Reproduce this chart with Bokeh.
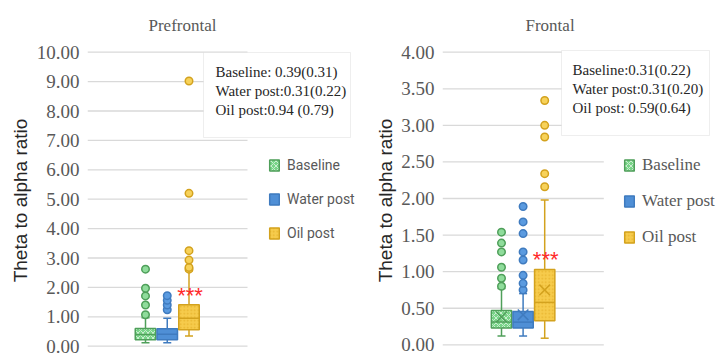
from bokeh.plotting import figure
from bokeh.layouts import row
from bokeh.models import (Range1d, FixedTicker, NumeralTickFormatter, Legend,
                          LegendItem, BoxAnnotation, Label)
from bokeh.embed import file_html
from bokeh.resources import INLINE

# ---------------- data ----------------
groups = ["Baseline", "Water post", "Oil post"]

pf_q1 = [0.22, 0.22, 0.56]
pf_median = [0.40, 0.41, 0.95]
pf_q3 = [0.60, 0.59, 1.41]
pf_low = [0.12, 0.12, 0.35]
pf_high = [0.97, 0.95, 2.57]
pf_outliers = [[1.07, 1.40, 1.71, 1.97, 2.62],
               [1.24, 1.40, 1.56, 1.72],
               [2.62, 2.68, 2.93, 3.25, 5.20, 9.02]]
pf_stats = ["Baseline: 0.39(0.31)", "Water post:0.31(0.22)", "Oil post:0.94 (0.79)"]
pf_ticks = [0, 1, 2, 3, 4, 5, 6, 7, 8, 9, 10]

fr_q1 = [0.23, 0.23, 0.33]
fr_median = [0.31, 0.31, 0.58]
fr_q3 = [0.47, 0.455, 1.03]
fr_low = [0.12, 0.12, 0.09]
fr_high = [0.77, 0.70, 1.98]
fr_mean = [0.38, 0.41, 0.75]
fr_outliers = [[0.80, 0.91, 1.06, 1.27, 1.39, 1.54],
               [0.75, 0.84, 0.95, 1.16, 1.27, 1.52, 1.68, 1.89],
               [2.16, 2.34, 2.84, 3.00, 3.34]]
fr_stats = ["Baseline:0.31(0.22)", "Water post:0.31(0.20)", "Oil post: 0.59(0.64)"]
fr_ticks = [0, 0.5, 1, 1.5, 2, 2.5, 3, 3.5, 4]

# ---------------- styles ----------------
FILL = ["#78d488", "#4f8fd6", "#f6cb4c"]
LINE = ["#4f9f5a", "#3f7bbf", "#d3a21e"]
OUT_FILL = ["#8fdc9b", "#5b9be0", "#f7d25a"]
HATCH = ["diagonal_cross", None, "dot"]
HATCH_COLOR = ["#ffffff", "#ffffff", "#e0a61c"]

W, H = 358, 356
TOP, BOTTOM = 44, 0
SERIF = "Liberation Serif"
SANS = "Liberation Sans"


def make_panel(title, title_offset, left_border, zero_px, ppu, ticks,
               q1, med, q3, low, high, outliers, mean, stats, star_y,
               first_x, step, box_w, grid_end, box_rect, text_x,
               legend_loc, legend_font, legend_size, legend_spacing,
               label_standoff):
    frame_top, frame_bottom = TOP, H - BOTTOM
    y0 = (zero_px - frame_bottom) / ppu
    y1 = (zero_px - frame_top) / ppu
    fw = W - left_border

    def yv(px):
        return (zero_px - px) / ppu

    p = figure(width=W, height=H, output_backend="svg", toolbar_location=None,
               x_range=Range1d(0, fw), y_range=Range1d(y0, y1),
               x_axis_location=None, min_border_left=left_border,
               min_border_right=0, min_border_top=TOP, min_border_bottom=BOTTOM)
    p.outline_line_color = None
    p.grid.visible = False
    p.background_fill_color = "white"
    p.border_fill_color = "white"

    p.title.text = title
    p.title.align = "left"
    p.title.offset = title_offset
    p.title.standoff = 20
    p.title.text_font = SERIF
    p.title.text_font_size = "17px"
    p.title.text_font_style = "normal"
    p.title.text_color = "#595959"

    p.yaxis.ticker = FixedTicker(ticks=ticks)
    p.yaxis.formatter = NumeralTickFormatter(format="0.00")
    p.yaxis.axis_line_color = None
    p.yaxis.major_tick_line_color = None
    p.yaxis.minor_tick_line_color = None
    p.yaxis.major_tick_out = 0
    p.yaxis.major_tick_in = 0
    p.yaxis.minor_tick_out = 0
    p.yaxis.major_label_standoff = 8
    p.yaxis.major_label_text_font = SERIF
    p.yaxis.major_label_text_font_style = "normal"
    p.yaxis.major_label_text_font_size = "19px"
    p.yaxis.major_label_text_color = "#595959"
    p.yaxis.axis_label = "Theta to alpha ratio"
    p.yaxis.axis_label_text_font = SANS
    p.yaxis.axis_label_text_font_size = "19px"
    p.yaxis.axis_label_text_font_style = "normal"
    p.yaxis.axis_label_text_color = "#262626"
    p.yaxis.axis_label_standoff = label_standoff

    # gridlines (stop before the legend area)
    p.segment(x0=[0] * len(ticks), x1=[grid_end] * len(ticks), y0=ticks, y1=ticks,
              line_color="#d9d9d9", line_width=1.3)

    items = []
    cap = 8
    for i, g in enumerate(groups):
        xc = first_x + i * step
        # whiskers
        p.segment(x0=[xc, xc], x1=[xc, xc], y0=[q3[i], q1[i]], y1=[high[i], low[i]],
                  line_color=LINE[i], line_width=1.5)
        p.segment(x0=[xc - cap / 2, xc - cap / 2], x1=[xc + cap / 2, xc + cap / 2],
                  y0=[high[i], low[i]], y1=[high[i], low[i]],
                  line_color=LINE[i], line_width=1.5)
        kw = {}
        if HATCH[i]:
            kw = dict(hatch_pattern=HATCH[i], hatch_color=HATCH_COLOR[i],
                      hatch_alpha=0.6, hatch_scale=5 if i == 0 else 3.5, hatch_weight=1)
        r = p.vbar(x=[xc], width=box_w, bottom=[q1[i]], top=[q3[i]],
                   fill_color=FILL[i], line_color=LINE[i], line_width=1.5, **kw)
        items.append(LegendItem(label=g, renderers=[r]))
        p.segment(x0=[xc - box_w / 2], x1=[xc + box_w / 2], y0=[med[i]], y1=[med[i]],
                  line_color=LINE[i], line_width=1.5)
        if mean is not None:
            p.scatter(x=[xc], y=[mean[i]], marker="x", size=15, line_color=LINE[i],
                      line_width=1.5)
        p.scatter(x=[xc] * len(outliers[i]), y=outliers[i], marker="circle", size=7.5,
                  fill_color=OUT_FILL[i], line_color=LINE[i], line_width=1.5)

    # significance stars above Oil post
    xo = first_x + 2 * step
    p.add_layout(Label(x=xo + 1, y=star_y, text="***", text_align="center",
                       text_baseline="alphabetic", text_font=SANS,
                       text_font_size="22px", text_color="#ff2a2a"))

    # stats box
    bl, br, bt, bb = box_rect
    p.add_layout(BoxAnnotation(left=bl, right=br, top=yv(bt), bottom=yv(bb),
                               fill_color="white", fill_alpha=1,
                               line_color="#c8c8c8", line_width=1, level="annotation"))
    for k, s in enumerate(stats):
        p.add_layout(Label(x=text_x, y=yv(bt + 19.5 + 19 * k), text=s,
                           text_baseline="middle", text_font=SERIF,
                           text_font_size="15px", text_color="#262626"))

    legend = Legend(items=items, location=legend_loc, orientation="vertical",
                    border_line_alpha=0, background_fill_alpha=0, padding=0,
                    margin=0, spacing=legend_spacing, glyph_width=12,
                    glyph_height=14, label_height=14, label_standoff=7,
                    label_text_font=legend_font, label_text_font_size=legend_size,
                    label_text_color="#595959")
    p.add_layout(legend)
    return p


p1 = make_panel("Prefrontal", 61, 87, 345.7, 29.4, pf_ticks,
                pf_q1, pf_median, pf_q3, pf_low, pf_high, pf_outliers, None,
                pf_stats, 1.74,
                58, 21.75, 20.5, 160, (116, 263, 52, 137), 128,
                (181, 115), "Roboto", "14px", 18, 3)
p2 = make_panel("Frontal", 83, 84, 344.3, 73.15, fr_ticks,
                fr_q1, fr_median, fr_q3, fr_low, fr_high, fr_outliers, fr_mean,
                fr_stats, 1.166,
                59, 21.6, 20.3, 161.3, (119, 267, 50, 135), 130,
                (181, 109), SERIF, "17px", 16, 2)

layout = row(p1, p2)
open("out.html", "w").write(file_html(layout, INLINE))
